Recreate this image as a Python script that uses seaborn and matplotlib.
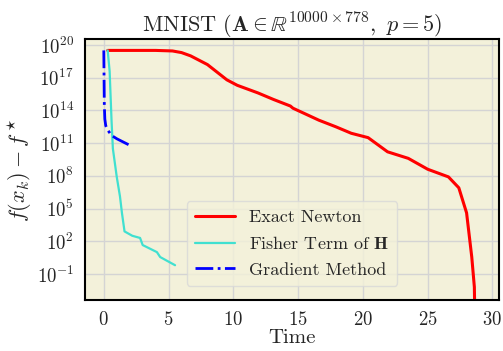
import numpy as np
import pandas as pd
import matplotlib
matplotlib.use("Agg")
import matplotlib.pyplot as plt
import seaborn as sns
from matplotlib.ticker import LogFormatterMathtext

# data (time, log10 of f(x_k) - f*)
newton_t = [0.3, 2.0, 4.0, 5.3, 6.0, 6.7, 8.0, 9.5, 10.3, 11.9, 13.1, 14.4, 14.6,
            16.6, 17.9, 19.1, 20.4, 21.9, 23.5, 25.0, 26.6, 27.4, 28.0, 28.4, 28.6, 28.65]
newton_log = [19.5, 19.5, 19.5, 19.45, 19.3, 19.0, 18.2, 16.8, 16.3, 15.6, 15.0, 14.4, 14.2,
              13.1, 12.5, 11.9, 11.5, 10.2, 9.6, 8.6, 7.9, 6.9, 4.6, 0.55, -2.2, -6.0]

fisher_t = [0.3, 0.45, 0.6, 0.7, 0.85, 1.0, 1.25, 1.4, 1.6, 2.2, 2.8, 3.0, 4.1, 4.35, 5.5]
fisher_log = [19.5, 17.6, 13.0, 10.5, 9.2, 7.9, 6.1, 4.6, 2.9, 2.5, 2.3, 1.65, 1.0, 0.55, -0.2]

grad_t = [0.0, 0.02, 0.04, 0.08, 0.15, 0.3, 0.6, 1.0, 1.5, 2.0]
grad_log = [19.5, 17.0, 14.5, 13.2, 12.6, 12.2, 11.7, 11.4, 11.1, 10.8]

labels = ["Exact Newton", r"Fisher Term of $\mathbf{H}$", "Gradient Method"]
colors = ["#ff0000", "#40e0d0", "#0000ff"]

sns.set_theme(style="whitegrid")
plt.rcParams["font.family"] = ["serif"]
plt.rcParams["font.serif"] = ["cmr10", "DejaVu Serif"]
plt.rcParams["mathtext.fontset"] = "cm"
plt.rcParams["axes.unicode_minus"] = False
plt.rcParams["axes.formatter.use_mathtext"] = True

fig, ax = plt.subplots(figsize=(5.03, 3.51), dpi=100)
fig.subplots_adjust(left=0.169, right=0.992, top=0.889, bottom=0.145)
ax.set_facecolor("#f3f1da")

series = [(newton_t, newton_log, "-", 2.2), (fisher_t, fisher_log, "-", 1.6), (grad_t, grad_log, "-.", 2.0)]
for (t, lg, ls, lw), lab, c in zip(series, labels, colors):
    df = pd.DataFrame({"t": t, "f": 10.0 ** np.array(lg)})
    sns.lineplot(data=df, x="t", y="f", ax=ax, color=c, label=lab, linestyle=ls,
                 linewidth=lw, sort=False, estimator=None)

ax.set_yscale("log")
ax.set_xlim(-1.45, 30.5)
ax.set_ylim(10 ** -3.4, 10 ** 20.55)
ax.set_xticks([0, 5, 10, 15, 20, 25, 30])
ax.set_yticks([10.0 ** k for k in range(-1, 21, 3)])
ax.yaxis.set_major_formatter(LogFormatterMathtext())
ax.minorticks_off()
ax.tick_params(labelsize=13.5, pad=2)

ax.grid(True, color="#d4d4d4", linewidth=1.0)
for s in ax.spines.values():
    s.set_color("black")
    s.set_linewidth(1.5)

ax.set_title(r"MNIST ($\mathbf{A} \in \mathbb{R}^{10000\times 778},\ p=5$)", fontsize=16, pad=5)
ax.set_xlabel("Time", fontsize=15, labelpad=0)
ax.set_ylabel(r"$f(x_k) - f^\star$", fontsize=16, labelpad=2)

leg = ax.legend(loc="lower center", bbox_to_anchor=(0.5, 0.02), fontsize=13,
                frameon=True, facecolor="#f3f1da", edgecolor="#d8d8d8", framealpha=0.8,
                handlelength=2.2, borderpad=0.45, labelspacing=0.55)

fig.savefig("out.png", dpi=100)
